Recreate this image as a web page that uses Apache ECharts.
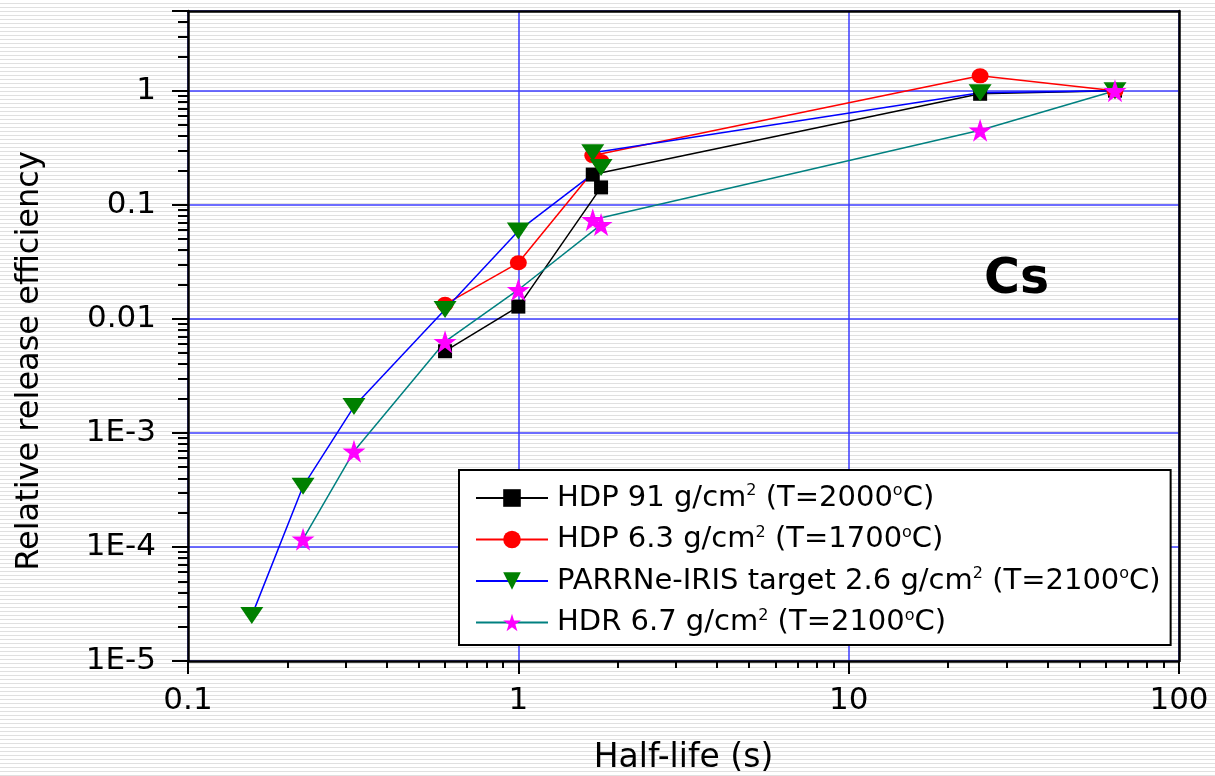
<!DOCTYPE html>
<html>
<head>
<meta charset="utf-8">
<script src="https://cdn.jsdelivr.net/npm/echarts@6/dist/echarts.min.js"></script>
<style>
html,body{margin:0;padding:0;width:1215px;height:776px;overflow:hidden;
background:repeating-linear-gradient(to bottom,#ffffff 0px,#ffffff 3px,#e0e0e0 3px,#e0e0e0 4px);}
#c{width:1215px;height:776px;}
</style>
</head>
<body>
<div id="c"></div>
<script>
// Half-lives of the Cs isotopes (148Cs ... 140Cs), seconds
const halfLife = [0.156, 0.223, 0.318, 0.6, 1.0, 1.78, 1.68, 25, 64];
// Relative release efficiencies (null = not measured)
const hdp91  = [null, null, null, 0.0052, 0.0128, 0.142, 0.184, 0.94, 1.0];
const hdp63  = [null, null, null, 0.0134, 0.031, 0.24, 0.27, 1.35, 1.0];
const parrne = [2.5e-5, 3.4e-4, 1.7e-3, 0.0121, 0.059, 0.212, 0.286, 0.96, 1.0];
const hdr67  = [null, 1.17e-4, 6.9e-4, 6.3e-3, 0.018, 0.067, 0.074, 0.45, 1.0];

const seriesNames = [
  'HDP 91 g/cm2 (T=2000C)',
  'HDP 6.3 g/cm2 (T=1700C)',
  'PARRNe-IRIS target 2.6 g/cm2 (T=2100C)',
  'HDR 6.7 g/cm2 (T=2100C)'
];
const legendLabels = [
  'HDP 91 g/cm{s|2} (T=2000{s|o}C)',
  'HDP 6.3 g/cm{s|2} (T=1700{s|o}C)',
  'PARRNe-IRIS target 2.6 g/cm{s|2} (T=2100{s|o}C)',
  'HDR 6.7 g/cm{s|2} (T=2100{s|o}C)'
];
const xTickLabels = ['0.1', '1', '10', '100'];
const yTickLabels = {'0.00001':'1E-5','0.0001':'1E-4','0.001':'1E-3','0.01':'0.01','0.1':'0.1','1':'1'};

function pairs(ys){
  const out = [];
  ys.forEach((v,i)=>{ if(v!==null) out.push([halfLife[i], v]); });
  return out;
}
const star = 'path://M50,0 L61.2,34.5 L97.6,34.5 L68.2,55.9 L79.4,90.5 L50,69.1 L20.6,90.5 L31.8,55.9 L2.4,34.5 L38.8,34.5 Z';
const FONT = 'DejaVu Sans';
const hiddenAxisParts = {axisTick:{show:false}, axisLabel:{show:false}, splitLine:{show:false}, minorTick:{show:false}};

const chart = echarts.init(document.getElementById('c'), null, {renderer:'canvas'});
chart.setOption({
  backgroundColor: 'transparent',
  animation: false,
  grid: {left:188, right:36, top:11, bottom:115, show:false, containLabel:false, outerBoundsMode:'none'},
  xAxis: [{
    type:'log', logBase:10, min:0.1, max:100,
    name:'Half-life (s)', nameLocation:'middle', nameGap:81,
    nameTextStyle:{fontFamily:FONT, fontSize:33, color:'#000'},
    axisLine:{show:true, lineStyle:{color:'#000', width:2.5}},
    axisTick:{show:true, inside:false, length:13, lineStyle:{color:'#000', width:2}},
    minorTick:{show:true, splitNumber:9, length:7, lineStyle:{color:'#000', width:2}},
    axisLabel:{margin:24, fontFamily:FONT, fontSize:31, color:'#000',
      formatter: v => { const s = String(+v.toPrecision(6)); return xTickLabels.includes(s) ? s : ''; }},
    splitLine:{show:true, lineStyle:{color:'#3c3cff', width:1.5}},
    minorSplitLine:{show:false}
  }, Object.assign({
    type:'log', logBase:10, min:0.1, max:100, position:'top',
    axisLine:{show:true, onZero:false, lineStyle:{color:'#000', width:2.5}}
  }, hiddenAxisParts)],
  yAxis: [{
    type:'log', logBase:10, min:1e-5, max:5,
    name:'Relative release efficiency', nameLocation:'middle', nameGap:142,
    nameTextStyle:{fontFamily:FONT, fontSize:32, color:'#000', padding:[0,50,0,0]},
    axisLine:{show:true, lineStyle:{color:'#000', width:2.5}},
    axisTick:{show:true, inside:false, length:16, lineStyle:{color:'#000', width:2}},
    minorTick:{show:true, splitNumber:9, length:10, lineStyle:{color:'#000', width:2}},
    axisLabel:{margin:32, fontFamily:FONT, fontSize:31, color:'#000', showMaxLabel:false,
      formatter: v => { const k = String(+v.toPrecision(6)); return yTickLabels[k] || ''; }},
    splitLine:{show:true, lineStyle:{color:'#3c3cff', width:1.5}},
    minorSplitLine:{show:false}
  }, Object.assign({
    type:'log', logBase:10, min:1e-5, max:5, position:'right',
    axisLine:{show:true, onZero:false, lineStyle:{color:'#000', width:2.5}}
  }, hiddenAxisParts)],
  legend: {
    orient:'vertical', left:459, top:470,
    padding:[13,10,8,16], itemGap:12, itemWidth:72, itemHeight:22,
    backgroundColor:'#fff', borderColor:'#000', borderWidth:2, borderRadius:0,
    data: seriesNames,
    formatter: name => legendLabels[seriesNames.indexOf(name)],
    textStyle:{fontFamily:FONT, fontSize:29, color:'#000', padding:[0,0,0,4],
      rich:{s:{fontFamily:FONT, fontSize:16, color:'#000', verticalAlign:'top', lineHeight:30}}}
  },
  graphic: [{type:'text', left:984, top:256, style:{text:'Cs', font:'bold 49px "DejaVu Sans"', fill:'#000'}}],
  series: [
    {name:seriesNames[0], type:'line', data:pairs(hdp91), symbol:'rect', symbolSize:14,
     lineStyle:{color:'#000', width:1.5}, itemStyle:{color:'#000'}},
    {name:seriesNames[1], type:'line', data:pairs(hdp63), symbol:'circle', symbolSize:[17,15],
     lineStyle:{color:'#ff0000', width:1.5}, itemStyle:{color:'#ff0000'}},
    {name:seriesNames[2], type:'line', data:pairs(parrne), symbol:'triangle', symbolRotate:180, symbolSize:[23,17],
     lineStyle:{color:'#0000ff', width:1.5}, itemStyle:{color:'#008000'}},
    {name:seriesNames[3], type:'line', data:pairs(hdr67), symbol:star, symbolSize:23,
     lineStyle:{color:'#008080', width:1.5}, itemStyle:{color:'#ff00ff'}}
  ]
});
</script>
</body>
</html>
